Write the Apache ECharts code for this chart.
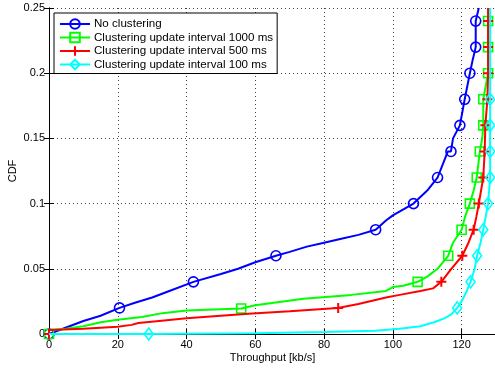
<!DOCTYPE html>
<html><head><meta charset="utf-8">
<script src="https://cdn.jsdelivr.net/npm/echarts@6/dist/echarts.min.js"></script>
<style>html,body{margin:0;padding:0;background:#fff}#c{width:495px;height:372px}</style>
</head><body><div id="c"></div>
<script>
// ---- data ----
const seriesNames = ['No clustering','Clustering update interval 1000 ms','Clustering update interval 500 ms','Clustering update interval 100 ms'];
const xTickLabels = [0,20,40,60,80,100,120];
const yTickLabels = [0,0.05,0.1,0.15,0.2,0.25];

const noClusterLine = [[0,0],[5,0.005],[10,0.01],[15,0.014],[20.5,0.02],[25,0.024],[30,0.028],[35,0.033],[42,0.04],[50,0.046],[55,0.05],[60,0.055],[66,0.06],[70,0.063],[75,0.067],[80,0.07],[85,0.073],[90,0.076],[95,0.08],[98,0.087],[100,0.091],[106,0.1],[110,0.11],[113,0.12],[116,0.14],[117.5,0.15],[119.5,0.16],[120.9,0.18],[122.4,0.2],[123.2,0.21],[124.1,0.22],[124.1,0.24],[125,0.25]];
const noClusterMarks = [[0,0],[20.5,0.02],[42,0.04],[66,0.06],[95,0.08],[106,0.1],[113,0.12],[116.9,0.14],[119.5,0.16],[120.9,0.18],[122.4,0.2],[124.1,0.22],[124.1,0.24]];

const c1000Line = [[0,0.003],[5,0.004],[10,0.006],[15,0.009],[20,0.011],[27,0.013],[33,0.016],[40,0.018],[50,0.019],[56,0.0195],[60,0.022],[74,0.027],[88,0.03],[98,0.033],[100,0.036],[103,0.037],[107.2,0.04],[110,0.044],[113,0.05],[116.1,0.06],[117.5,0.07],[120,0.08],[121,0.09],[122.4,0.1],[123.5,0.11],[124.4,0.12],[125.3,0.14],[126,0.15],[126.3,0.16],[126.3,0.18],[127.7,0.2],[127.7,0.25]];
const c1000Marks = [[0,0],[55.9,0.0195],[107.2,0.04],[116.1,0.06],[120,0.08],[122.4,0.1],[124.4,0.12],[125.3,0.14],[126.3,0.16],[126.3,0.18],[127.7,0.2],[127.7,0.22],[127.7,0.24]];

const c500Line = [[0,0.003],[10,0.004],[20,0.0056],[24,0.007],[26,0.0085],[32,0.01],[40,0.012],[50,0.014],[58,0.0155],[70,0.0175],[84,0.02],[90,0.023],[98,0.028],[102,0.03],[108,0.033],[111.7,0.035],[114.1,0.04],[117,0.05],[120.2,0.06],[122,0.07],[123.5,0.08],[124.3,0.09],[125,0.1],[126.3,0.12],[126.7,0.14],[126.9,0.16],[127.5,0.18],[127.7,0.2],[127.7,0.25]];
const c500Marks = [[0,0],[84.1,0.02],[114.1,0.04],[120.2,0.06],[123.5,0.08],[125,0.1],[126.3,0.12],[126.7,0.14],[126.9,0.16],[127.5,0.18],[127.7,0.2],[127.7,0.22],[127.7,0.24]];

const c100Line = [[0,0],[29,0],[60,0.0005],[80,0.0015],[95,0.0025],[102,0.004],[108,0.006],[112,0.009],[115,0.012],[117,0.015],[118.7,0.02],[120,0.025],[121.5,0.033],[122.6,0.04],[123.8,0.05],[124.5,0.06],[125.5,0.07],[126.3,0.08],[127,0.09],[127.7,0.1],[128.3,0.12],[128.3,0.25]];
const c100Marks = [[29,0],[118.7,0.02],[122.6,0.04],[124.5,0.06],[126.3,0.08],[127.7,0.1],[128.3,0.12],[128.3,0.14],[128.3,0.16],[128.3,0.18]];

// ---- build ----
function merge(line, marks){
  const items = line.map(p => ({value:p, symbol:'none', k:0}));
  marks.forEach(p => items.push({value:p, k:1}));
  items.sort((a,b)=> (a.value[1]-b.value[1]) || (a.value[0]-b.value[0]) || (a.k-b.k));
  return items.map(it => it.k ? {value:it.value} : {value:it.value, symbol:'none'});
}
const font = 'Liberation Sans';
const colors = ['#0000ff','#00ff00','#ff0000','#00ffff'];
const symbols = ['circle','rect','path://M5,0L5,10M0,5L10,5','diamond'];
const sizes = [10,9,10,[9,12]];
const lines = [noClusterLine,c1000Line,c500Line,c100Line];
const marks = [noClusterMarks,c1000Marks,c500Marks,c100Marks];

const series = [];
for (let i=0;i<4;i++){
  series.push({
    name: seriesNames[i], type:'line', clip:false,
    data: merge(lines[i], marks[i]),
    symbol: symbols[i], symbolSize: sizes[i], showSymbol:true, showAllSymbol:true,
    lineStyle:{color:colors[i], width:2},
    itemStyle:{color: i===2 ? colors[i] : 'transparent', borderColor:colors[i], borderWidth: i===2?2:1.6},
    z: 2+i, silent:true, animation:false
  });
}

const chart = echarts.init(document.getElementById('c'), null, {renderer:'canvas'});
const axisText = {fontFamily:font, fontSize:11, color:'#000'};
chart.setOption({
  animation:false,
  backgroundColor:'#fff',
  grid:{left:49, top:8, width:447, height:326, outerBoundsMode:'none', containLabel:false},
  legend:{
    data: seriesNames,
    orient:'vertical', left:54, top:13,
    backgroundColor:'#fff', borderColor:'#000', borderWidth:1,
    padding:[5,4,3,5], itemGap:1.5, itemWidth:30, itemHeight:12,
    textStyle:{fontFamily:font, fontSize:11.6, color:'#000', padding:[0,0,0,-1]}
  },
  xAxis:[{
    type:'value', min:0, max:130, interval:20,
    name:'Throughput [kb/s]', nameLocation:'middle', nameGap:18, nameMoveOverlap:false,
    nameTextStyle:axisText,
    axisLine:{lineStyle:{color:'#000', width:1}},
    axisTick:{inside:true, length:5, lineStyle:{color:'#000'}},
    axisLabel:Object.assign({margin:5, showMaxLabel:false}, axisText),
    splitLine:{show:true, lineStyle:{color:'#444', type:[1,3], width:1}}
  },{
    type:'value', min:0, max:130, interval:20, position:'top',
    axisLine:{lineStyle:{color:'#000', width:1}},
    axisTick:{inside:true, length:5, lineStyle:{color:'#000'}},
    axisLabel:{show:false}, splitLine:{show:false}
  }],
  yAxis:[{
    type:'value', min:0, max:0.25, interval:0.05,
    name:'CDF', nameLocation:'middle', nameGap:31, nameRotate:90, nameMoveOverlap:false,
    nameTextStyle:axisText,
    axisLine:{show:true, lineStyle:{color:'#000', width:1}},
    axisTick:{show:true, inside:true, length:5, lineStyle:{color:'#000'}},
    axisLabel:Object.assign({margin:4, formatter:v=>String(+v.toFixed(2))}, axisText),
    splitLine:{show:true, lineStyle:{color:'#444', type:[1,3], width:1}}
  },{
    type:'value', min:0, max:0.25, interval:0.05, position:'right',
    axisLine:{show:true, lineStyle:{color:'#000', width:1}},
    axisTick:{show:true, inside:true, length:5, lineStyle:{color:'#000'}},
    axisLabel:{show:false}, splitLine:{show:false}
  }],
  series: series
});
</script></body></html>
